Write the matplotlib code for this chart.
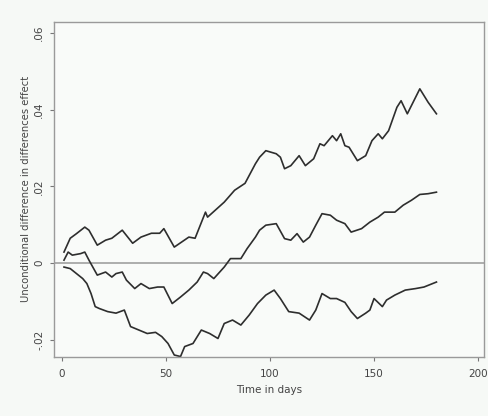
# Cumulative unconditional difference-in-differences effect over time,
# with the upper and lower bands drawn around the point estimate

import matplotlib.pyplot as plt

# Upper band
upper_days = [1, 4, 7, 11, 13, 17, 21, 24, 29, 34, 38, 43, 47, 49, 54, 61, 64, 69, 70,
			  78, 83, 88, 93, 95, 98, 103, 105, 107, 110, 114, 117, 121, 124, 126, 130,
			  132, 134, 136, 138, 142, 146, 149, 152, 154, 157, 161, 163, 166, 172, 176, 180]
upper_vals = [.0029, .0065, .0077, .0094, .0086, .0047, .0060, .0065, .0086, .0052, .0068,
			  .0078, .0078, .0090, .0042, .0068, .0065, .0133, .0120, .0159, .0190, .0208,
			  .0259, .0276, .0293, .0285, .0276, .0246, .0254, .0280, .0254, .0272, .0311,
			  .0306, .0332, .0319, .0337, .0306, .0302, .0267, .0280, .0319, .0337, .0324,
			  .0345, .0406, .0423, .0389, .0454, .0419, .0389]

# Point estimate
mid_days = [1, 3, 5, 9, 11, 13, 17, 21, 24, 26, 29, 31, 35, 38, 42, 46, 49, 53, 57, 61,
			65, 68, 70, 73, 78, 81, 86, 89, 93, 95, 98, 103, 107, 110, 113, 116, 119, 122,
			125, 129, 132, 136, 139, 144, 148, 152, 155, 160, 164, 168, 172, 176, 180]
mid_vals = [.0008, .0029, .0021, .0025, .0029, .0008, -.0031, -.0023, -.0036, -.0027,
			-.0023, -.0044, -.0066, -.0053, -.0066, -.0062, -.0062, -.0105, -.0088, -.0070,
			-.0049, -.0023, -.0027, -.0040, -.0010, .0012, .0012, .0038, .0068, .0086,
			.0099, .0103, .0064, .0060, .0077, .0055, .0068, .0099, .0129, .0125, .0112,
			.0103, .0081, .0090, .0107, .0120, .0133, .0133, .0151, .0164, .0179, .0181, .0185]

# Lower band
lower_days = [1, 4, 7, 10, 12, 14, 16, 18, 22, 26, 30, 33, 37, 41, 45, 48, 51, 54, 57, 59,
			  63, 67, 71, 75, 78, 82, 86, 90, 94, 98, 102, 105, 109, 114, 119, 122, 125,
			  129, 132, 136, 139, 142, 146, 148, 150, 154, 156, 160, 165, 170, 174, 180]
lower_vals = [-.0010, -.0014, -.0027, -.0040, -.0053, -.0079, -.0113, -.0118, -.0126,
			  -.0130, -.0122, -.0165, -.0174, -.0183, -.0180, -.0191, -.0209, -.0239,
			  -.0243, -.0217, -.0209, -.0174, -.0183, -.0196, -.0157, -.0148, -.0161,
			  -.0135, -.0105, -.0083, -.0070, -.0092, -.0126, -.0130, -.0148, -.0122,
			  -.0079, -.0092, -.0092, -.0102, -.0126, -.0144, -.0130, -.0122, -.0092,
			  -.0113, -.0096, -.0083, -.0070, -.0066, -.0062, -.0049]

yticks = [-.02, 0, .02, .04, .06]
ytick_labels = ['-.02', '0', '.02', '.04', '.06']
xticks = [0, 50, 100, 150, 200]

bg = '#f6f9f6'
ink = '#2e2e2e'

fig = plt.figure(figsize=(4.89, 4.16), dpi=100, facecolor=bg)
ax = fig.add_axes([0.110, 0.142, 0.880, 0.806], facecolor='#f9fbf9')

ax.axhline(0, color='#a0a0a0', linewidth=1.2, zorder=1)

for days, vals in [(upper_days, upper_vals), (mid_days, mid_vals), (lower_days, lower_vals)]:
	ax.plot(days, vals, color=ink, linewidth=1.2, zorder=2)

ax.set_xlim(-3.9, 202.9)
ax.set_ylim(-0.0244, 0.0629)

ax.set_xticks(xticks)
ax.set_yticks(yticks)
ax.set_yticklabels(ytick_labels, rotation=90, va='center')
ax.tick_params(axis='both', direction='out', length=3, width=0.8, color='#777777',
			   labelsize=7.5, labelcolor='#444444')
ax.tick_params(axis='x', pad=6)
ax.tick_params(axis='y', pad=4)

for spine in ax.spines.values():
	spine.set_color('#9a9a9a')
	spine.set_linewidth(1.0)

ax.set_xlabel('Time in days', fontsize=7.5, color='#444444', labelpad=4)
ax.set_ylabel('Unconditional difference in differences effect', fontsize=7.2,
			  color='#444444', labelpad=2)

fig.savefig('out.png', dpi=100, facecolor=bg)
